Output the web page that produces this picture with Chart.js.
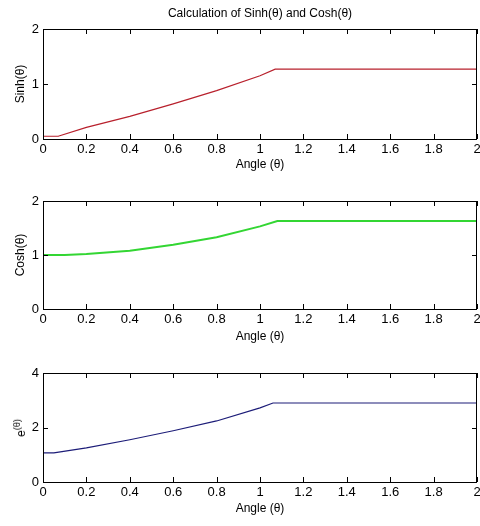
<!DOCTYPE html>
<html>
<head>
<meta charset="utf-8">
<script src="https://cdn.jsdelivr.net/npm/chart.js@4"></script>
<style>
  body { margin: 0; background: #fff; }
  #wrap { position: relative; width: 480px; height: 526px; overflow: hidden; }
  .plot { position: absolute; left: 0; width: 490px; height: 180px; }
  #expLabel {
    position: absolute; left: 20px; top: 428px;
    transform: translate(-50%, -50%) rotate(-90deg);
    font: 12px "Liberation Sans", Arial, sans-serif;
    color: #000; white-space: nowrap;
  }
  #expLabel sup { font-size: 9px; }
</style>
</head>
<body>
<div id="wrap">
  <div class="plot" style="top:0px"><canvas id="sinh-chart" width="490" height="180"></canvas></div>
  <div class="plot" style="top:172px"><canvas id="cosh-chart" width="490" height="180"></canvas></div>
  <div class="plot" style="top:344px"><canvas id="exp-chart" width="490" height="180"></canvas></div>
  <div id="expLabel">e<sup>(θ)</sup></div>
</div>
<script>
// ==============================
// data
// ==============================
var xTicks = [0, 0.2, 0.4, 0.6, 0.8, 1, 1.2, 1.4, 1.6, 1.8, 2];

var sinhAngle = [0, 0.07, 0.2, 0.4, 0.6, 0.8, 1.0, 1.07, 2];
var sinhValue = [0.05, 0.05, 0.21, 0.41, 0.64, 0.88, 1.15, 1.27, 1.27];
var sinhTicks = [0, 1, 2];

var coshAngle = [0, 0.1, 0.2, 0.4, 0.6, 0.8, 1.0, 1.08, 2];
var coshValue = [1.0, 1.0, 1.02, 1.08, 1.19, 1.33, 1.53, 1.63, 1.63];
var coshTicks = [0, 1, 2];

var expAngle = [0, 0.05, 0.2, 0.4, 0.6, 0.8, 1.0, 1.06, 2];
var expValue = [1.07, 1.07, 1.25, 1.55, 1.88, 2.24, 2.72, 2.9, 2.9];
var expTicks = [0, 2, 4];

var fontFamily = '"Liberation Sans", Arial, sans-serif';

// box + inward tick marks (matlab style)
var boxPlugin = {
  id: 'matlabBox',
  afterDraw: function(chart) {
    var ctx = chart.ctx;
    var a = chart.chartArea;
    var xs = chart.scales.x, ys = chart.scales.y;
    ctx.save();
    ctx.strokeStyle = '#000';
    ctx.lineWidth = 1;
    ctx.strokeRect(Math.round(a.left) + 0.5, Math.round(a.top) + 0.5,
                   Math.round(a.right - a.left) - 1, Math.round(a.bottom - a.top));
    ctx.beginPath();
    xs.ticks.forEach(function(t, i) {
      var px = Math.round(xs.getPixelForTick(i)) + 0.5;
      ctx.moveTo(px, a.bottom); ctx.lineTo(px, a.bottom - 5);
      ctx.moveTo(px, a.top); ctx.lineTo(px, a.top + 5);
    });
    ys.ticks.forEach(function(t, i) {
      var py = Math.round(ys.getPixelForTick(i)) + 0.5;
      ctx.moveTo(a.left, py); ctx.lineTo(a.left + 5, py);
      ctx.moveTo(a.right, py); ctx.lineTo(a.right - 5, py);
    });
    ctx.stroke();
    ctx.restore();
  }
};

function toPoints(xs, ys) {
  var pts = [];
  for (var i = 0; i < xs.length; i++) {
    pts.push({x: xs[i], y: ys[i]});
  }
  return pts;
}

function plotSubchart(canvasId, angles, values, yTicks, color, width, yTitle, title, xHeight) {
  var chartCanvas = document.getElementById(canvasId);
  var yMax = yTicks[yTicks.length - 1];

  new Chart(chartCanvas, {
    type: 'line',
    data: {
      datasets: [{
        data: toPoints(angles, values),
        borderColor: color,
        borderWidth: width,
        pointRadius: 0,
        tension: 0,
        fill: false
      }]
    },
    options: {
      responsive: false,
      animation: false,
      events: [],
      layout: { padding: { top: title ? 0 : 29, right: 13, bottom: 0, left: 0 } },
      plugins: {
        legend: { display: false },
        tooltip: { enabled: false },
        title: {
          display: !!title,
          text: title,
          fullSize: false,
          color: '#000',
          font: { family: fontFamily, size: 12, weight: 'normal', lineHeight: 1.2 },
          padding: { top: 6, bottom: 8.6 }
        }
      },
      scales: {
        x: {
          type: 'linear',
          min: 0, max: 2,
          afterBuildTicks: function(scale) {
            scale.ticks = xTicks.map(function(v) { return {value: v}; });
          },
          afterFit: function(scale) { scale.height = xHeight; },
          grid: { display: false, drawTicks: false },
          border: { display: false },
          ticks: {
            color: '#000',
            padding: 3,
            maxRotation: 0,
            autoSkip: false,
            font: { family: fontFamily, size: 13 },
            callback: function(v) { return String(+v.toFixed(1)); }
          },
          title: {
            display: true,
            text: 'Angle (θ)',
            color: '#000',
            font: { family: fontFamily, size: 12 },
            padding: { top: 0, bottom: 8 }
          }
        },
        y: {
          min: 0, max: yMax,
          afterBuildTicks: function(scale) {
            scale.ticks = yTicks.map(function(v) { return {value: v}; });
          },
          afterFit: function(scale) { scale.width = 43; },
          grid: { display: false, drawTicks: false },
          border: { display: false },
          ticks: {
            color: '#000',
            padding: 4,
            font: { family: fontFamily, size: 13 },
            callback: function(v) { return String(v); }
          },
          title: {
            display: !!yTitle,
            text: yTitle,
            color: '#000',
            font: { family: fontFamily, size: 12 },
            padding: { top: 13, bottom: 0 }
          }
        }
      }
    },
    plugins: [boxPlugin]
  });
}

plotSubchart('sinh-chart', sinhAngle, sinhValue, sinhTicks, '#b8202c', 1.2, 'Sinh(θ)',
             'Calculation of Sinh(θ) and Cosh(θ)', 41);
plotSubchart('cosh-chart', coshAngle, coshValue, coshTicks, '#33d633', 2, 'Cosh(θ)', '', 43);
plotSubchart('exp-chart', expAngle, expValue, expTicks, '#1c1c78', 1.2, '', '', 42);
</script>
</body>
</html>
